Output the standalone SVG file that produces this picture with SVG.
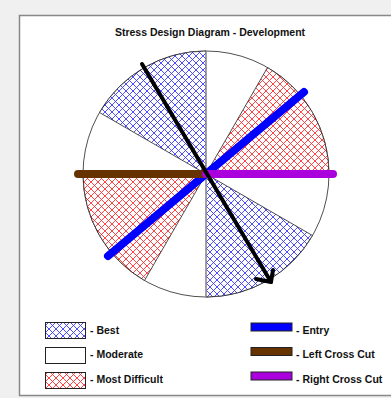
<svg xmlns="http://www.w3.org/2000/svg" width="391" height="398" viewBox="0 0 391 398">
<defs>
<pattern id="hb" width="7" height="7" patternUnits="userSpaceOnUse">
<rect width="7" height="7" fill="#fff"/>
<path d="M0,0 L7,7 M7,0 L0,7" stroke="#3a3aff" stroke-width="0.9"/>
</pattern>
<pattern id="hr" width="7" height="7" patternUnits="userSpaceOnUse">
<rect width="7" height="7" fill="#fff"/>
<path d="M0,0 L7,7 M7,0 L0,7" stroke="#ff3030" stroke-width="0.9"/>
</pattern>
</defs>
<style>
.t{font-family:"Liberation Sans",Arial,sans-serif;font-weight:bold;font-size:10.5px;fill:#111}
.sec{stroke:#222;stroke-width:0.8}
.ln{fill:none;stroke-linecap:round;stroke-width:8}
.sw{stroke:#222;stroke-width:1}
</style>
<rect width="391" height="398" fill="#f0f0f0"/>
<rect x="19.5" y="15.5" width="380" height="380" fill="#fff" stroke="#888" stroke-width="1.5"/>
<text class="t" x="210" y="36" text-anchor="middle">Stress Design Diagram - Development</text>
<g id="pie">
<circle cx="206" cy="174" r="123" fill="#fff" stroke="#222" stroke-width="0.8"/>
<path class="sec" fill="url(#hb)" d="M206,174 L206,51 A123,123 0 0 0 99.5,112.5 Z"/>
<path class="sec" fill="url(#hr)" d="M206,174 L83,174 A123,123 0 0 0 144.5,280.5 Z"/>
<path class="sec" fill="url(#hb)" d="M206,174 L206,297 A123,123 0 0 0 312.5,235.5 Z"/>
<path class="sec" fill="url(#hr)" d="M206,174 L329,174 A123,123 0 0 0 267.5,67.5 Z"/>
<line x1="206" y1="51" x2="206" y2="297" stroke="#999" stroke-width="1"/>
</g>
<g id="connectors">
<line class="ln" x1="108" y1="256" x2="304" y2="92" stroke="#0000ff"/>
<line class="ln" x1="78" y1="174" x2="206" y2="174" stroke="#663300"/>
<line class="ln" x1="206" y1="174" x2="333" y2="174" stroke="#aa00dd"/>
<g fill="none" stroke="#000" stroke-width="4" stroke-linecap="round" stroke-linejoin="round">
<line x1="142" y1="64" x2="271" y2="282"/>
<polyline points="256,279 271,282 273,270"/>
</g>
</g>
<g id="legend-best"><rect class="sw" x="45.5" y="322.5" width="40" height="16" fill="url(#hb)"/><text class="t" x="90" y="334">- Best</text></g>
<g id="legend-moderate"><rect class="sw" x="45.5" y="347.5" width="40" height="16" fill="#fff"/><text class="t" x="90" y="358">- Moderate</text></g>
<g id="legend-difficult"><rect class="sw" x="45.5" y="372.5" width="40" height="16" fill="url(#hr)"/><text class="t" x="90" y="383">- Most Difficult</text></g>
<g id="legend-entry"><rect class="sw" x="251" y="323" width="41" height="8" fill="#0000ff"/><text class="t" x="296" y="334">- Entry</text></g>
<g id="legend-left"><rect class="sw" x="251" y="347.5" width="41" height="8" fill="#663300"/><text class="t" x="296" y="358">- Left Cross Cut</text></g>
<g id="legend-right"><rect class="sw" x="251" y="372" width="41" height="8" fill="#aa00dd"/><text class="t" x="296" y="383">- Right Cross Cut</text></g>
</svg>
